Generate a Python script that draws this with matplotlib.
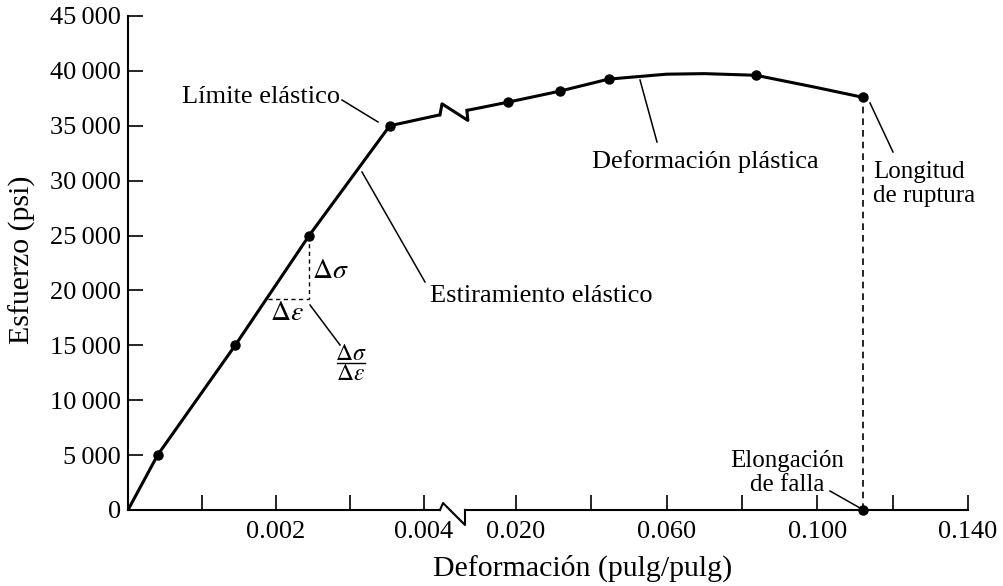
import matplotlib
matplotlib.use("Agg")
import matplotlib.pyplot as plt
from matplotlib.lines import Line2D
import numpy as np

plt.rcParams['font.family'] = ['Liberation Serif', 'DejaVu Serif']
plt.rcParams['mathtext.fontset'] = 'stix'

# elastic region (left panel, strain in pulg/pulg, stress in psi)
strain_el = [0.0, 0.0004, 0.00145, 0.00245, 0.00354, 0.00422]
stress_el = [0, 5000, 15000, 25000, 35000, 36000]
el_pts_x = [0.0004, 0.00145, 0.00245, 0.00354]
el_pts_y = [5000, 15000, 25000, 35000]

# plastic region (right panel)
strain_pl = [0.0070, 0.0179, 0.0316, 0.0446, 0.060, 0.070, 0.0837, 0.0996, 0.112]
stress_pl = [36400, 37150, 38150, 39250, 39700, 39750, 39600, 38500, 37600]
pl_pts_x = [0.0179, 0.0316, 0.0446, 0.0837, 0.112]
pl_pts_y = [37150, 38150, 39250, 39600, 37600]

fail_strain = 0.112
fail_stress = 37600

# slope triangle on the elastic line
tri_x = [0.00189, 0.00245]
tri_y = [19200, 25000]

yticks = list(range(0, 45001, 5000))
left_ticks = [0.001, 0.002, 0.003, 0.004]
left_labels = ['', '0.002', '', '0.004']
right_ticks = [0.02, 0.04, 0.06, 0.08, 0.10, 0.12, 0.14]
right_labels = ['0.020', '', '0.060', '', '0.100', '', '0.140']

W, H = 1004, 586
FS = 19
LW = 2.2


def box(x0, y0, x1, y1):
    return [x0 / W, 1 - y1 / H, (x1 - x0) / W, (y1 - y0) / H]


def px(x, y):
    return (x / W, 1 - y / H)


fig = plt.figure(figsize=(W / 100, H / 100), dpi=100)
ax1 = fig.add_axes(box(128, 16, 440, 510))
ax2 = fig.add_axes(box(465, 16, 968, 510), sharey=ax1)

ax1.set_xlim(0, 0.00422)
ax2.set_xlim(0.0065, 0.140)
ax1.set_ylim(0, 45000)

for ax in (ax1, ax2):
    ax.spines['top'].set_visible(False)
    ax.spines['right'].set_visible(False)
    ax.spines['bottom'].set_linewidth(1.5)
    ax.tick_params(axis='both', direction='in', length=11, width=1.2,
                   labelsize=FS, pad=8)
ax2.spines['left'].set_visible(False)
ax1.spines['left'].set_linewidth(1.5)
ax2.tick_params(axis='y', left=False, labelleft=False)

ax1.set_yticks(yticks)
ax1.set_yticklabels([f"{v:,}".replace(",", "\u2009") for v in yticks])
ax1.tick_params(axis='y', pad=5)
ax1.set_xticks(left_ticks)
ax1.set_xticklabels(left_labels)
ax2.set_xticks(right_ticks)
ax2.set_xticklabels(right_labels)

# stress-strain curve
ax1.plot(strain_el, stress_el, color='black', lw=LW, solid_capstyle='butt')
ax1.plot(el_pts_x, el_pts_y, 'o', color='black', ms=6.5)
ax2.plot(strain_pl, stress_pl, color='black', lw=LW, solid_capstyle='butt')
ax2.plot(pl_pts_x, pl_pts_y, 'o', color='black', ms=6.5)
ax2.plot([fail_strain], [0], 'o', color='black', ms=6.5, clip_on=False, zorder=5)

# dashed guides
ax2.plot([fail_strain, fail_strain], [0, fail_stress], color='black', lw=1.2,
         ls=(0, (4, 3)))
ax1.plot([tri_x[1], tri_x[1]], [tri_y[1], tri_y[0]], color='black', lw=1.0,
         ls=(0, (3, 2.5)))
ax1.plot([tri_x[0], tri_x[1]], [tri_y[0], tri_y[0]], color='black', lw=1.0,
         ls=(0, (3, 2.5)))

# break marks on the axis and on the curve
to_fig = fig.transFigure.inverted()


def zigzag(p_left, p_right, up, down, lw):
    pts = np.array([p_left, p_left + up, p_right + down, p_right])
    pts = to_fig.transform(pts)
    fig.add_artist(Line2D(pts[:, 0], pts[:, 1], color='black', lw=lw,
                          transform=fig.transFigure))


la = ax1.transAxes.transform((1, 0))
ra = ax2.transAxes.transform((0, 0))
zigzag(la, ra, np.array([3, 7]), np.array([0, -15]), 1.5)
lc = ax1.transData.transform((strain_el[-1], stress_el[-1]))
rc = ax2.transData.transform((strain_pl[0], stress_pl[0]))
zigzag(lc, rc, np.array([2, 11]), np.array([1, -10]), LW)

# annotations
leaders = [
    ((342, 100), (378, 122)),
    ((362, 172), (425, 282)),
    ((310, 305), (340, 345)),
    ((640, 80), (657, 142)),
    ((870, 103), (893, 152)),
    ((830, 491), (860, 508)),
]
for a, b in leaders:
    (x0, y0), (x1, y1) = px(*a), px(*b)
    fig.add_artist(Line2D([x0, x1], [y0, y1], color='black', lw=1.1))

fig.text(*px(340, 97), 'Límite elástico', ha='right', va='center', fontsize=FS)
fig.text(*px(430, 296), 'Estiramiento elástico', ha='left', va='center', fontsize=FS)
fig.text(*px(592, 162), 'Deformación plástica', ha='left', va='center', fontsize=FS)
fig.text(*px(873, 184), 'Longitud\nde ruptura', ha='left', va='center',
         fontsize=18, linespacing=1.15)
fig.text(*px(787, 473), 'Elongación\nde falla', ha='center', va='center',
         fontsize=18, linespacing=1.1, multialignment='center')
fig.text(*px(330, 272), r'$\Delta\sigma$', ha='center', va='center', fontsize=FS + 1)
fig.text(*px(287, 314), r'$\Delta\varepsilon$', ha='center', va='center', fontsize=FS + 1)

# slope fraction
fig.text(*px(351, 354), r'$\Delta\sigma$', ha='center', va='center', fontsize=17)
fig.text(*px(351, 375), r'$\Delta\varepsilon$', ha='center', va='center', fontsize=17)
(f0, fy), (f1, _) = px(337, 363), px(365, 363)
fig.add_artist(Line2D([f0, f1], [fy, fy], color='black', lw=1.0))

fig.text(*px(22, 260), 'Esfuerzo (psi)', rotation=90, ha='center', va='center',
         fontsize=21.5)
fig.text(*px(583, 568), 'Deformación (pulg/pulg)', ha='center', va='center',
         fontsize=21.5)

fig.savefig('out.png', dpi=100)
